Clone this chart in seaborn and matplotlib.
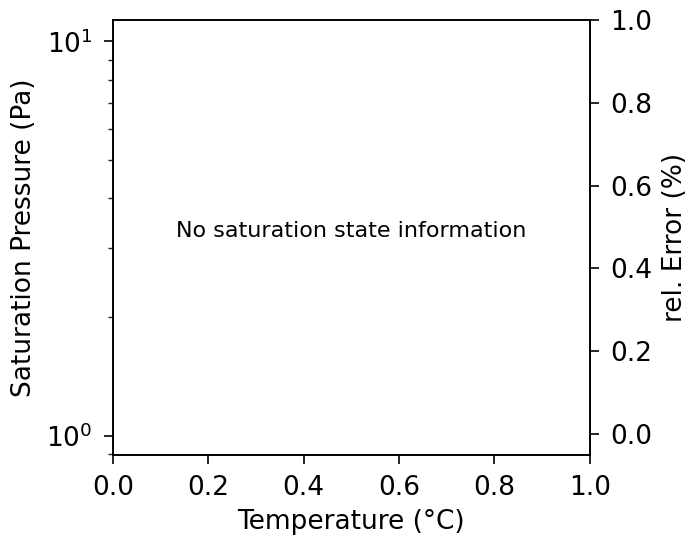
import matplotlib
matplotlib.use("Agg")
import matplotlib.pyplot as plt
import seaborn as sns
import pandas as pd

# Data (empty: no saturation state information)
temperature = []
pressure = []
rel_error = []

x_label = "Temperature (°C)"
y_label = "Saturation Pressure (Pa)"
y2_label = "rel. Error (%)"
message = "No saturation state information"

sns.set_style("ticks")
plt.rcParams["font.family"] = ["DejaVu Sans"]
plt.rcParams["text.color"] = "black"
plt.rcParams["axes.labelcolor"] = "black"

fig = plt.figure(figsize=(6.89, 5.35), dpi=100)
ax = fig.add_axes([0.164, 0.1495, 0.692, 0.8135])

df = pd.DataFrame({"T": pd.Series(temperature, dtype=float),
                   "p": pd.Series(pressure, dtype=float),
                   "e": pd.Series(rel_error, dtype=float)})
sns.lineplot(data=df, x="T", y="p", ax=ax)
ax.set_yscale("log")
ax.set_xlim(0, 1)
ax.set_ylim(0.895, 11.35)

ax2 = ax.twinx()
sns.lineplot(data=df, x="T", y="e", ax=ax2)
ax2.set_ylim(-0.05, 1.0)

fs = 19
lp = 7
ax.set_xlabel(x_label, fontsize=fs, color="black", labelpad=5.5)
ax.set_ylabel(y_label, fontsize=fs, color="black", labelpad=lp)
ax2.set_ylabel(y2_label, fontsize=fs, color="black", labelpad=lp)
for a in (ax, ax2):
    a.tick_params(labelsize=fs, direction="out", length=6.2, width=1.2, pad=8.5,
                  colors="black")
    a.tick_params(which="minor", length=3.8, width=1.0)
    for s in a.spines.values():
        s.set_visible(True)
        s.set_color("black")
        s.set_linewidth(1.2)
ax.set_xticks([0.0, 0.2, 0.4, 0.6, 0.8, 1.0])
ax2.set_yticks([0.0, 0.2, 0.4, 0.6, 0.8, 1.0])

ax.text(0.5, 0.515, message, transform=ax.transAxes, ha="center", va="center",
        fontsize=16, color="black")

fig.savefig("out.png", dpi=100)
